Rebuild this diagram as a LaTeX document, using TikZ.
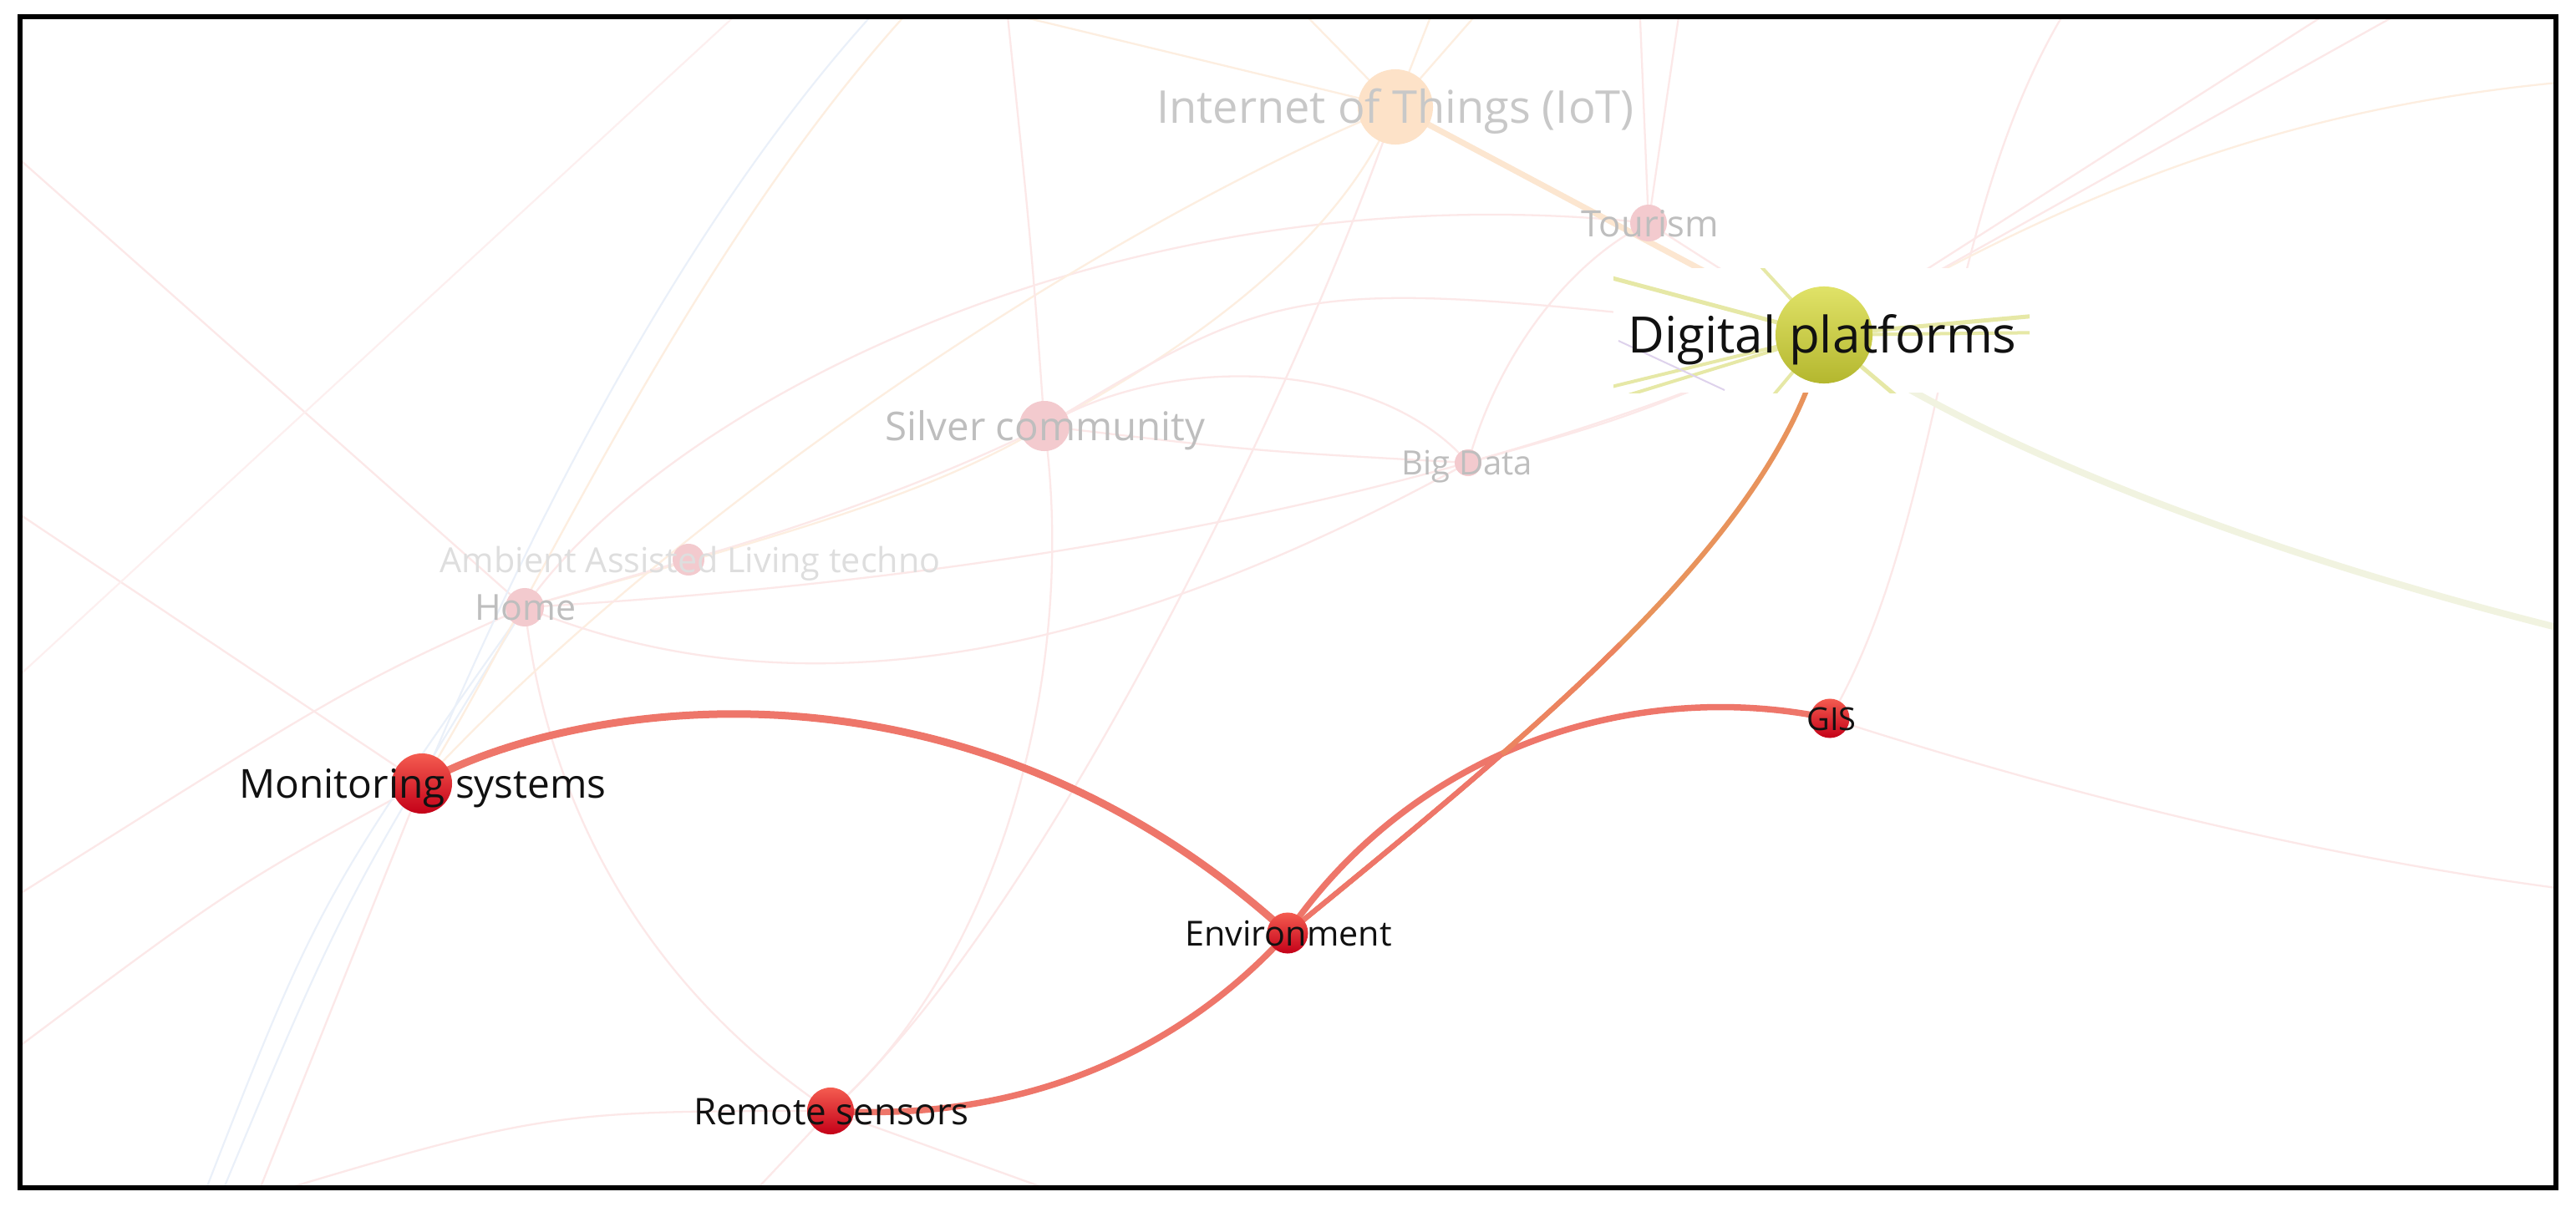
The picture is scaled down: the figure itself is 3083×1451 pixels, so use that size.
\documentclass[tikz,border=0pt]{standalone}
\usepackage{fontspec}
\setmainfont{Open Sans}
\pgfdeclarelayer{bgl}
\pgfdeclarelayer{edgel}
\pgfdeclarelayer{boxl}
\pgfsetlayers{bgl,edgel,boxl,main}
\definecolor{salmon}{RGB}{238,118,106}
\definecolor{salmonmid}{RGB}{236,132,96}
\definecolor{edgeorange}{RGB}{232,147,92}
\definecolor{redtop}{RGB}{244,92,80}
\definecolor{redbot}{RGB}{196,0,24}
\definecolor{dptop}{RGB}{224,226,104}
\definecolor{dpbot}{RGB}{180,183,46}
\definecolor{iotc}{RGB}{253,226,200}
\definecolor{pinkn}{RGB}{243,202,206}
\definecolor{fpinkc}{RGB}{252,232,232}
\definecolor{fpeachc}{RGB}{253,238,224}
\definecolor{fbluec}{RGB}{234,240,249}
\definecolor{fpink2c}{RGB}{253,239,239}
\definecolor{iotedge}{RGB}{252,230,208}
\definecolor{dptail}{RGB}{241,243,224}
\definecolor{rayc}{RGB}{230,232,166}
\definecolor{lavc}{RGB}{222,210,236}
\definecolor{gtxt}{RGB}{190,190,190}
\definecolor{gtxtl}{RGB}{200,200,200}
\definecolor{gtxtvl}{RGB}{222,222,222}
\definecolor{btxt}{RGB}{17,17,17}
\begin{document}
\begin{tikzpicture}[x=0.01cm,y=-0.01cm,
  rnode/.style={circle,inner sep=0pt,draw=none,top color=redtop,bottom color=redbot},
  dpnode/.style={circle,inner sep=0pt,draw=none,top color=dptop,bottom color=dpbot},
  iotnode/.style={circle,inner sep=0pt,draw=none,fill=iotc},
  pnode/.style={circle,inner sep=0pt,draw=none,fill=pinkn},
  lab/.style={inner sep=0pt,anchor=base},
  fp/.style={draw=fpinkc,line width=0.65pt},
  fp2/.style={draw=fpink2c,line width=0.6pt},
  fpe/.style={draw=fpeachc,line width=0.65pt},
  fb/.style={draw=fbluec,line width=0.6pt},
  medge/.style={draw=salmon,line cap=round},
  ray/.style={draw=rayc,line width=0.04cm}]
\useasboundingbox (0,0) rectangle (3083,1451);

% nodes
\node[iotnode,minimum size=0.90cm] (nIoT) at (1670,128) {};
\node[pnode,minimum size=0.44cm] (nTour) at (1973,267) {};
\node[pnode,minimum size=0.60cm] (nSil) at (1250,510) {};
\node[pnode,minimum size=0.32cm] (nBig) at (1757,554) {};
\node[pnode,minimum size=0.38cm] (nAAL) at (824,670) {};
\node[pnode,minimum size=0.46cm] (nHome) at (628,727) {};
\node[rnode,minimum size=0.72cm] (nMon) at (505,938) {};
\node[rnode,minimum size=0.49cm] (nEnv) at (1541,1117) {};
\node[rnode,minimum size=0.56cm] (nRem) at (994,1330) {};
\node[rnode,minimum size=0.47cm] (nGIS) at (2190,860) {};
\node[dpnode,minimum size=1.16cm] (nDP) at (2183,401) {};

% labels
\node[lab,font=\fontsize{15.4}{18}\selectfont,text=gtxtl] (lIoT) at (1670,147) {Internet of Things (IoT)};
\node[lab,font=\fontsize{12.4}{15}\selectfont,text=gtxt] (lTour) at (1975,283) {Tourism};
\node[lab,font=\fontsize{13.5}{16}\selectfont,text=gtxt] (lSil) at (1251,527) {Silver community};
\node[lab,font=\fontsize{11.4}{14}\selectfont,text=gtxt] (lBig) at (1756,568) {Big Data};
\node[lab,font=\fontsize{11.75}{14}\selectfont,text=gtxtvl] (lAAL) at (826,685) {Ambient Assisted Living techno};
\node[lab,font=\fontsize{12.2}{15}\selectfont,text=gtxt] (lHome) at (629,742) {Home};
\node[lab,font=\fontsize{13.6}{16}\selectfont,text=btxt] (lMon) at (506,955) {Monitoring systems};
\node[lab,font=\fontsize{11.75}{14}\selectfont,text=btxt] (lEnv) at (1542,1132) {Environment};
\node[lab,font=\fontsize{12.5}{15}\selectfont,text=btxt] (lRem) at (995,1346) {Remote sensors};
\node[lab,font=\fontsize{10.8}{13}\selectfont,text=btxt] (lGIS) at (2192,874) {GIS};
\node[lab,font=\fontsize{17.1}{20}\selectfont,text=btxt] (lDP) at (2181,422) {Digital platforms};

% free ends
\coordinate (L1) at (0,170);
\coordinate (L2) at (0,600);
\coordinate (L3) at (0,1085);
\coordinate (L4) at (0,1270);
\coordinate (L5a) at (0,830);
\coordinate (L5b) at (900,0);
\coordinate (B1) at (236,1451);
\coordinate (B2) at (256,1451);
\coordinate (B3) at (300,1451);
\coordinate (B4) at (250,1451);
\coordinate (B5) at (1330,1451);
\coordinate (B6) at (880,1451);
\coordinate (T1) at (1100,0);
\coordinate (T2) at (1060,0);
\coordinate (T3) at (1204,0);
\coordinate (T4) at (1140,0);
\coordinate (T5) at (1545,0);
\coordinate (T6) at (1720,0);
\coordinate (T7) at (1782,0);
\coordinate (T8) at (1962,0);
\coordinate (T9) at (2012,0);
\coordinate (T10) at (2480,0);
\coordinate (T11) at (2810,0);
\coordinate (T12) at (2900,0);
\coordinate (R1) at (3083,1066);
\coordinate (R2) at (3083,97);
\coordinate (R3) at (3080,756);
% ray ends
\coordinate (Y1) at (1900,325);
\coordinate (Y2) at (1900,470);
\coordinate (Y3) at (1900,488);
\coordinate (Y4) at (2090,300);
\coordinate (Y5) at (2460,376);
\coordinate (Y6) at (2460,398);
\coordinate (Y7) at (2300,500);
\coordinate (Y8) at (2100,500);
\coordinate (Y9a) at (1937,408);
\coordinate (Y9b) at (2064,467);

\begin{pgfonlayer}{bgl}
\fill[white] (0,0) rectangle (3083,1451);
\end{pgfonlayer}

\begin{pgfonlayer}{edgel}
\begin{scope}
\clip (24,20) rectangle (3059,1422);
\draw[fp] (nHome.center) -- (L1);
\draw[fp] (nMon.center) -- (L2);
\draw[fp] (nHome.center) .. controls (420,820) .. (L3);
\draw[fp] (nMon.center) .. controls (280,1060) .. (L4);
\draw[fp2] (L5a) -- (L5b);
\draw[fb] (B1) .. controls (380,1080) .. (nHome.center);
\draw[fb] (B2) .. controls (410,1080) .. (nHome.center);
\draw[fp] (nMon.center) .. controls (420,1150) .. (B3);
\draw[fp] (nHome.center) .. controls (660,1000) and (800,1200) .. (nRem.center);
\draw[fpe] (nMon.center) .. controls (620,760) and (820,300) .. (T1);
\draw[fb] (nMon.center) .. controls (580,760) and (780,300) .. (T2);
\draw[fp] (nHome.center) .. controls (800,480) and (1350,200) .. (nTour.center);
\draw[fpe] (nIoT.center) .. controls (1300,280) and (800,620) .. (nMon.center);
\draw[fp] (nSil.center) .. controls (1235,300) .. (T3);
\draw[fp] (nSil.center) .. controls (1290,800) and (1200,1150) .. (nRem.center);
\draw[fp] (nIoT.center) .. controls (1560,450) and (1250,1100) .. (nRem.center);
\draw[fpe] (nSil.center) .. controls (1400,430) and (1600,300) .. (nIoT.center);
\draw[fp] (nSil.center) .. controls (1500,540) .. (nBig.center);
\draw[fp] (nSil.center) .. controls (1400,420) and (1650,430) .. (nBig.center);
\draw[fp] (nBig.center) .. controls (1800,400) and (1900,300) .. (nTour.center);
\draw[fp] (nHome.center) .. controls (1000,880) and (1400,750) .. (nBig.center);
\draw[fp] (nHome.center) .. controls (1100,700) and (1700,620) .. (nDP.center);
\draw[fp] (nAAL.center) .. controls (1000,620) and (1150,560) .. (nSil.center);
\draw[fpe] (nHome.center) .. controls (900,650) and (1100,600) .. (nSil.center);
\draw[fp] (nAAL.center) -- (nHome.center);
\draw[fp] (nTour.center) -- (T8);
\draw[fp] (nTour.center) -- (T9);
\draw[fpe] (nIoT.center) -- (T5);
\draw[fpe] (nIoT.center) -- (T6);
\draw[fpe] (nIoT.center) -- (T7);
\draw[fpe] (T4) -- (nIoT.center);
\draw[fp] (nGIS.center) .. controls (2330,620) and (2320,250) .. (T10);
\draw[fp] (nGIS.center) .. controls (2500,960) and (2800,1030) .. (R1);
\draw[fpe] (nDP.center) .. controls (2450,250) and (2700,130) .. (R2);
\draw[fp] (nDP.center) -- (T11);
\draw[fp] (nDP.center) -- (T12);
\draw[fp] (nBig.center) .. controls (1950,500) .. (nDP.center);
\draw[fp] (nSil.center) .. controls (1550,330) .. (nDP.center);
\draw[fp] (nTour.center) -- (nDP.center);
\draw[fp] (nRem.center) -- (B5);
\draw[fp] (nRem.center) .. controls (650,1330) .. (B4);
\draw[fp] (nRem.center) -- (B6);
% thick faint edges
\draw[draw=iotedge,line width=0.07cm] (nIoT.center) -- (nDP.center);
\draw[draw=dptail,line width=0.08cm] (nDP.center) .. controls (2330,510) and (2650,650) .. (R3);
% main edges
\draw[medge,line width=0.09cm] (nMon.center) .. controls (680,840) and (1150,760) .. (nEnv.center);
\draw[medge,line width=0.075cm] (nEnv.center) .. controls (1430,1240) and (1250,1345) .. (nRem.center);
\draw[medge,line width=0.075cm] (nEnv.center) .. controls (1690,900) and (1950,810) .. (nGIS.center);
\draw[draw=edgeorange,line width=0.06cm] (nEnv.center) .. controls (1830,880) and (2130,640) .. (nDP.center);
\draw[draw=salmonmid,line width=0.06cm,dash pattern=on 150pt off 3000pt] (nEnv.center) .. controls (1830,880) and (2130,640) .. (nDP.center);
\draw[draw=salmon,line width=0.06cm,dash pattern=on 95pt off 3000pt] (nEnv.center) .. controls (1830,880) and (2130,640) .. (nDP.center);
\end{scope}
\end{pgfonlayer}

\begin{pgfonlayer}{boxl}
\fill[white] (1931,321) rectangle (2429,470);
\begin{scope}
\clip (1931,321) rectangle (2429,470);
\draw[ray,line width=0.05cm] (nDP.center) -- (Y1);
\draw[ray] (nDP.center) -- (Y2);
\draw[ray] (nDP.center) -- (Y3);
\draw[ray] (nDP.center) -- (Y4);
\draw[ray,line width=0.05cm] (nDP.center) -- (Y5);
\draw[ray] (nDP.center) -- (Y6);
\draw[ray,line width=0.05cm] (nDP.center) -- (Y7);
\draw[ray] (nDP.center) -- (Y8);
\draw[draw=lavc,line width=0.02cm] (Y9a) -- (Y9b);
\end{scope}
\end{pgfonlayer}

\draw[line width=0.06cm] (24,20) rectangle (3059,1422);
\end{tikzpicture}
\end{document}
